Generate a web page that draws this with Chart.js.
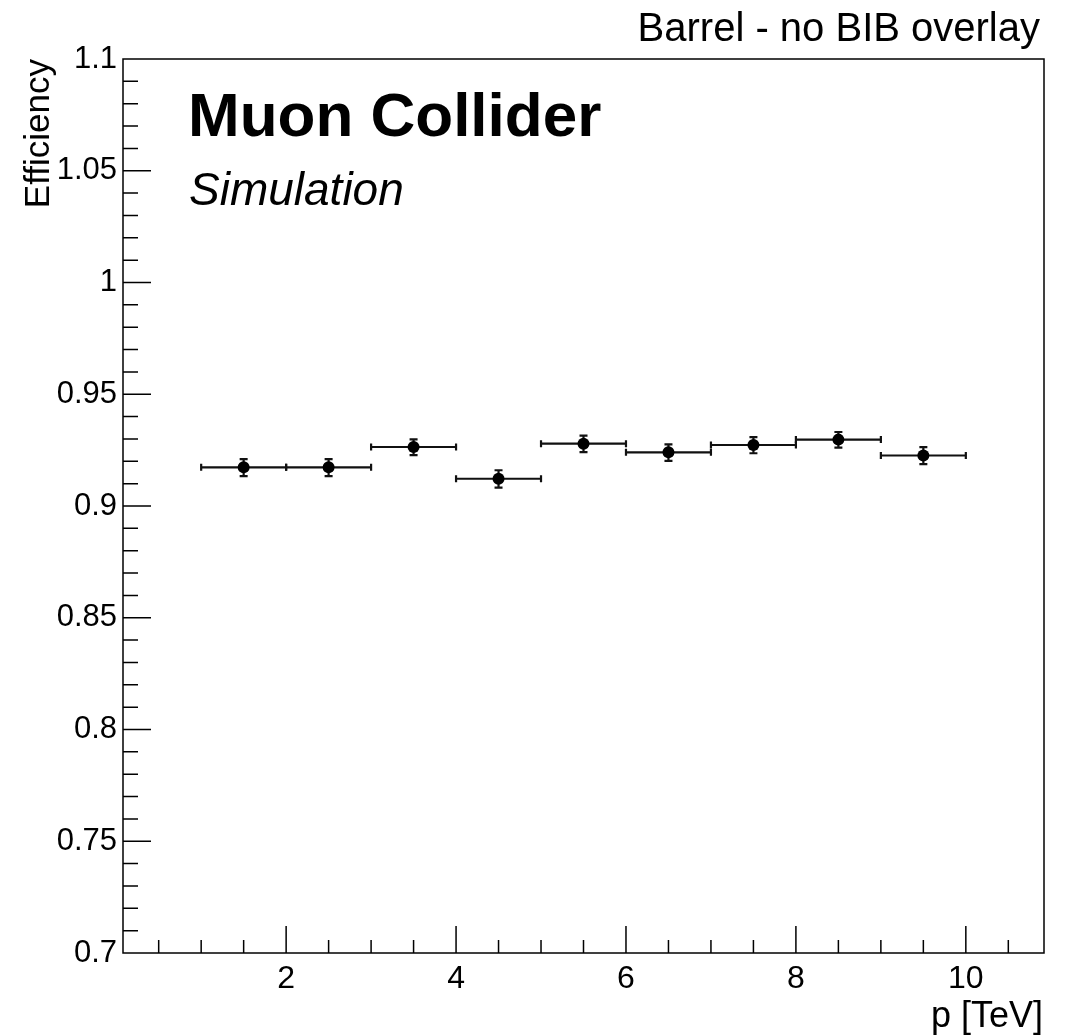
<!DOCTYPE html>
<html>
<head>
<meta charset="utf-8">
<script src="https://cdn.jsdelivr.net/npm/chart.js@4.4.1/dist/chart.umd.min.js"></script>
<style>
html, body { margin: 0; padding: 0; background: #fff; }
#wrap { width: 1076px; height: 1035px; }
</style>
</head>
<body>
<div id="wrap"><canvas id="effChart" width="1076" height="1035"></canvas></div>
<script>
// Efficiency vs momentum, one point per 1 TeV bin
const binCenters = [1.5, 2.5, 3.5, 4.5, 5.5, 6.5, 7.5, 8.5, 9.5];
const binHalfWidth = 0.5;
const efficiency = [0.9173, 0.9173, 0.9264, 0.9122, 0.9279, 0.9240, 0.9273, 0.9297, 0.9226];
const errLow  = [0.0039, 0.0039, 0.0036, 0.0040, 0.0038, 0.0038, 0.0037, 0.0036, 0.0039];
const errHigh = [0.0037, 0.0037, 0.0034, 0.0038, 0.0036, 0.0036, 0.0035, 0.0034, 0.0037];

// Axis ticks
const xMajorTicks = [2, 4, 6, 8, 10];
const yMajorTicks = [0.7, 0.75, 0.8, 0.85, 0.9, 0.95, 1, 1.05, 1.1];

const xRange = [0.08, 10.92];
const yRange = [0.7, 1.1];

const FONT = '"Liberation Sans", Arial, Helvetica, sans-serif';

const points = binCenters.map((x, i) => ({ x: x, y: efficiency[i] }));

// Frame, inward ticks, error bars and labels in ROOT style
const rootStyle = {
    id: 'rootStyle',
    beforeDatasetsDraw(chart) {
        const ctx = chart.ctx;
        const xs = chart.scales.x, ys = chart.scales.y;
        ctx.save();
        ctx.strokeStyle = '#111';
        ctx.lineWidth = 2.2;
        binCenters.forEach((c, i) => {
            const px = xs.getPixelForValue(c);
            const left = xs.getPixelForValue(c - binHalfWidth);
            const right = xs.getPixelForValue(c + binHalfWidth);
            const py = ys.getPixelForValue(efficiency[i]);
            const top = ys.getPixelForValue(efficiency[i] + errHigh[i]);
            const bot = ys.getPixelForValue(efficiency[i] - errLow[i]);
            ctx.beginPath();
            ctx.moveTo(left, py); ctx.lineTo(right, py);
            ctx.moveTo(left, py - 3.5); ctx.lineTo(left, py + 3.5);
            ctx.moveTo(right, py - 3.5); ctx.lineTo(right, py + 3.5);
            ctx.moveTo(px, top); ctx.lineTo(px, bot);
            ctx.moveTo(px - 4, top); ctx.lineTo(px + 4, top);
            ctx.moveTo(px - 4, bot); ctx.lineTo(px + 4, bot);
            ctx.stroke();
        });
        ctx.restore();
    },
    afterDraw(chart) {
        const ctx = chart.ctx;
        const a = chart.chartArea;
        const xs = chart.scales.x, ys = chart.scales.y;
        ctx.save();
        ctx.strokeStyle = '#000';
        ctx.lineWidth = 1.5;
        ctx.strokeRect(a.left, a.top, a.right - a.left, a.bottom - a.top);

        // x ticks: major every 2, minor every 0.5
        ctx.beginPath();
        for (let v = 0.5; v < xRange[1]; v += 0.5) {
            const px = xs.getPixelForValue(v);
            const len = xMajorTicks.includes(v) ? 27 : 13;
            ctx.moveTo(px, a.bottom); ctx.lineTo(px, a.bottom - len);
        }
        // y ticks: major every 0.05, minor every 0.01
        for (let k = 71; k < 110; k++) {
            const v = k / 100;
            const py = ys.getPixelForValue(v);
            const len = k % 5 === 0 ? 28 : 15;
            ctx.moveTo(a.left, py); ctx.lineTo(a.left + len, py);
        }
        ctx.stroke();

        ctx.fillStyle = '#000';
        ctx.textBaseline = 'alphabetic';

        ctx.font = '40px ' + FONT;
        ctx.textAlign = 'right';
        ctx.fillText('Barrel - no BIB overlay', 1040, 41);

        ctx.textAlign = 'left';
        ctx.font = 'bold 62px ' + FONT;
        ctx.fillText('Muon Collider', 188, 136);
        ctx.font = 'italic 46px ' + FONT;
        ctx.fillText('Simulation', 189, 205);

        ctx.font = '36px ' + FONT;
        ctx.textAlign = 'right';
        ctx.fillText('p [TeV]', 1043, 1027);

        ctx.translate(49, a.top);
        ctx.rotate(-Math.PI / 2);
        ctx.font = '35px ' + FONT;
        ctx.fillText('Efficiency', 0, 0);
        ctx.restore();
    }
};

new Chart(document.getElementById('effChart'), {
    type: 'scatter',
    data: {
        datasets: [{
            label: 'Efficiency',
            data: points,
            backgroundColor: '#000',
            borderColor: '#000',
            borderWidth: 0,
            pointRadius: 6,
            pointHoverRadius: 6
        }]
    },
    options: {
        responsive: false,
        animation: false,
        events: [],
        layout: { padding: { top: 59, right: 32, left: 0, bottom: 0 } },
        plugins: {
            legend: { display: false },
            tooltip: { enabled: false }
        },
        scales: {
            x: {
                type: 'linear',
                min: xRange[0],
                max: xRange[1],
                grid: { display: false, drawTicks: false },
                border: { display: false },
                afterBuildTicks: s => { s.ticks = xMajorTicks.map(v => ({ value: v })); },
                afterFit: s => { s.height = 82; },
                ticks: {
                    color: '#000',
                    font: { family: FONT, size: 32 },
                    padding: 7,
                    maxRotation: 0,
                    autoSkip: false,
                    callback: v => String(v)
                }
            },
            y: {
                type: 'linear',
                min: yRange[0],
                max: yRange[1],
                grid: { display: false, drawTicks: false },
                border: { display: false },
                afterBuildTicks: s => { s.ticks = yMajorTicks.map(v => ({ value: v })); },
                afterFit: s => { s.width = 123; },
                ticks: {
                    color: '#000',
                    font: { family: FONT, size: 31 },
                    padding: 6,
                    autoSkip: false,
                    callback: v => String(+v.toFixed(2))
                }
            }
        }
    },
    plugins: [rootStyle]
});
</script>
</body>
</html>
